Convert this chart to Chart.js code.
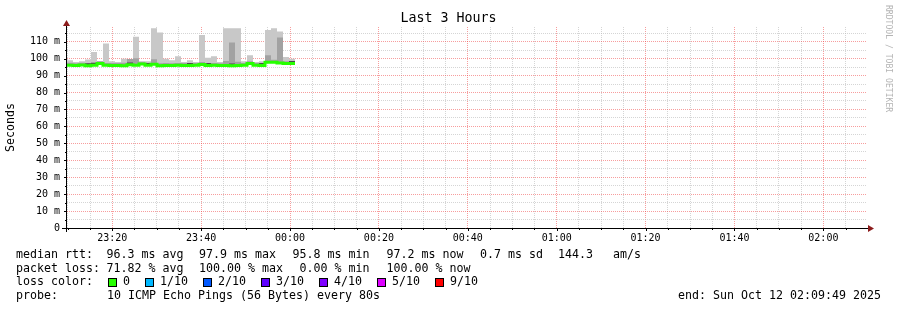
<!DOCTYPE html>
<html>
<head>
<meta charset="utf-8">
<script src="https://cdn.jsdelivr.net/npm/chart.js@4/dist/chart.umd.min.js"></script>
<style>
  html, body { margin: 0; padding: 0; background: #fff; }
</style>
</head>
<body>
<canvas id="smoke" width="897" height="310"></canvas>
<script>
// window of the graph
const viewStart = "23:09:49";
const viewEnd = "02:09:49";

// start of each 80s sample (last one closes the final step)
const stepTimes = [
  "23:09:49", "23:11:10", "23:12:31", "23:13:52", "23:15:13", "23:16:34", "23:17:55", "23:19:16",
  "23:20:37", "23:21:58", "23:23:19", "23:24:40", "23:26:01", "23:27:22", "23:28:43", "23:30:04",
  "23:31:25", "23:32:46", "23:34:07", "23:35:28", "23:36:49", "23:38:10", "23:39:31", "23:40:52",
  "23:42:13", "23:43:34", "23:44:55", "23:46:16", "23:47:37", "23:48:58", "23:50:19", "23:51:40",
  "23:53:01", "23:54:22", "23:55:43", "23:57:04", "23:58:25", "23:59:46", "00:01:07"
];

// median rtt (ms)
const medianRtt = [
  96.1, 95.9, 96.2, 95.8, 96.1, 97.1, 96.1, 96.0, 96.0, 95.8, 96.4, 96.1, 96.8,
  96.1, 96.7, 95.8, 96.0, 96.0, 96.1, 96.0, 96.0, 96.1, 96.6, 96.0, 96.1, 96.0,
  96.0, 95.8, 96.0, 96.1, 97.2, 96.1, 96.0, 97.9, 97.9, 97.4, 97.2, 97.2
];
// top of the light smoke (slowest ping, ms)
const smokeMax = [
  99.0, 98.0, 98.5, 99.5, 104.0, 98.5, 109.0, 98.5, 98.0, 100.0, 99.0, 113.0, 98.0,
  98.5, 118.0, 115.5, 100.0, 99.0, 101.5, 98.0, 99.0, 98.0, 114.0, 100.5, 101.5, 98.0,
  118.0, 118.0, 118.0, 98.5, 102.0, 98.0, 98.5, 117.0, 118.0, 116.0, 101.0, 100.0
];
// top of the medium smoke (ms)
const smokeMid = [
  97.6, 97.3, 97.6, 97.3, 98.0, 98.4, 97.5, 97.4, 97.4, 97.6, 99.8, 100.2, 98.3,
  97.4, 99.6, 97.3, 97.4, 97.3, 97.5, 97.4, 97.4, 97.5, 98.0, 97.4, 97.4, 97.3,
  98.6, 109.5, 98.2, 97.4, 98.4, 97.4, 97.4, 102.0, 99.4, 112.5, 98.4, 98.2
];
// top of the dark core just above the median (ms)
const smokeCore = [
  96.1, 95.9, 96.2, 97.3, 97.5, 97.1, 96.1, 96.0, 96.0, 95.8, 97.8, 96.1, 96.8,
  97.5, 96.7, 95.8, 96.0, 96.0, 96.1, 96.0, 97.4, 96.1, 96.6, 97.4, 96.1, 96.0,
  96.0, 97.2, 96.0, 96.1, 97.2, 96.1, 97.4, 97.9, 97.9, 97.4, 97.2, 98.6
];

const xTickLabels = ["23:20", "23:40", "00:00", "00:20", "00:40", "01:00", "01:20", "01:40", "02:00"];
const yTickLabels = ["0", "10 m", "20 m", "30 m", "40 m", "50 m", "60 m", "70 m", "80 m", "90 m", "100 m", "110 m"];

const lossLabels = ["0", "1/10", "2/10", "3/10", "4/10", "5/10", "9/10"];
const lossColors = ["#26ff00", "#00b8ff", "#0059ff", "#5e00ff", "#7e00ff", "#dd00ff", "#ff0000"];

const rttItems = ["median rtt:", "96.3 ms avg", "97.9 ms max", "95.8 ms min", "97.2 ms now", "0.7 ms sd", "144.3", "am/s"];
const lossItems = ["packet loss:", "71.82 % avg", "100.00 % max", "0.00 % min", "100.00 % now"];
const probeItems = ["loss color:", "probe:", "10 ICMP Echo Pings (56 Bytes) every 80s"];
const endText = "end: Sun Oct 12 02:09:49 2025";

// minutes after 23:00
function toMin(s) {
  const [h, m, sec] = s.split(":").map(Number);
  const hh = h < 12 ? h + 24 : h;
  return (hh - 23) * 60 + m + sec / 60;
}

function stepSeries(values) {
  let pts = values.map((v, i) => ({ x: toMin(stepTimes[i]), y: v }));
  pts.push({ x: toMin(stepTimes[values.length]), y: values[values.length - 1] });
  return pts;
}

const mono = "'DejaVu Sans Mono', 'Liberation Mono', monospace";
const gridMajor = "rgba(240,60,60,0.5)";
const gridMinor = "rgba(185,185,185,0.6)";

const rrdDecor = {
  id: "rrdDecor",
  afterDraw(chart) {
    const { ctx, chartArea: a, scales: { x, y } } = chart;
    ctx.save();

    // tick marks
    ctx.strokeStyle = "#000";
    ctx.lineWidth = 1;
    ctx.beginPath();
    y.ticks.forEach(t => {
      const py = Math.round(y.getPixelForValue(t.value)) + 0.5;
      ctx.moveTo(a.left - (t.value % 10 === 0 ? 3 : 2), py);
      ctx.lineTo(a.left, py);
    });
    x.ticks.forEach(t => {
      const px = Math.round(x.getPixelForValue(t.value)) + 0.5;
      ctx.moveTo(px, a.bottom);
      ctx.lineTo(px, a.bottom + (t.value % 20 === 0 ? 3 : 2));
    });
    ctx.stroke();

    // axes
    ctx.beginPath();
    ctx.moveTo(a.left - 5, a.bottom + 0.5);
    ctx.lineTo(a.right + 2, a.bottom + 0.5);
    ctx.moveTo(a.left - 0.5, a.bottom + 4);
    ctx.lineTo(a.left - 0.5, a.top - 2);
    ctx.stroke();

    // arrows
    ctx.fillStyle = "#8c1c1c";
    ctx.beginPath();
    ctx.moveTo(a.left - 0.5, a.top - 7);
    ctx.lineTo(a.left - 4, a.top - 1);
    ctx.lineTo(a.left + 3, a.top - 1);
    ctx.closePath();
    ctx.fill();
    ctx.beginPath();
    ctx.moveTo(a.right + 7, a.bottom + 0.5);
    ctx.lineTo(a.right + 1, a.bottom - 3);
    ctx.lineTo(a.right + 1, a.bottom + 4);
    ctx.closePath();
    ctx.fill();

    // title
    ctx.fillStyle = "#000";
    ctx.textBaseline = "middle";
    ctx.textAlign = "center";
    ctx.font = "13.3px " + mono;
    ctx.fillText("Last 3 Hours", chart.width / 2, 19);

    // stats
    ctx.font = "11.63px " + mono;
    ctx.textAlign = "left";
    const rows = [255, 268.5, 282, 296];
    const rttX = [16, 106.5, 199, 292.5, 386.5, 480, 558, 613];
    rttItems.forEach((s, i) => ctx.fillText(s, rttX[i], rows[0]));
    const lossX = [16, 106.5, 199, 299.5, 386.5];
    lossItems.forEach((s, i) => ctx.fillText(s, lossX[i], rows[1]));
    ctx.fillText(probeItems[0], 16, rows[2]);
    ctx.fillText(probeItems[1], 16, rows[3]);
    ctx.fillText(probeItems[2], 107, rows[3]);

    const boxX = [108, 145, 203, 261, 319, 377, 435];
    const textX = [123, 160, 218, 276, 334, 392, 450];
    lossLabels.forEach((lab, i) => {
      ctx.fillStyle = lossColors[i];
      ctx.fillRect(boxX[i], 278, 9, 9);
      ctx.strokeStyle = "#000";
      ctx.strokeRect(boxX[i] + 0.5, 278.5, 8, 8);
      ctx.fillStyle = "#000";
      ctx.fillText(lab, textX[i], rows[2]);
    });

    ctx.textAlign = "right";
    ctx.fillText(endText, 881, rows[3]);

    // watermark
    ctx.translate(888, 5);
    ctx.rotate(Math.PI / 2);
    ctx.textAlign = "left";
    ctx.fillStyle = "#b4b4b4";
    ctx.font = "8.1px " + mono;
    ctx.fillText("RRDTOOL / TOBI OETIKER", 0, 0);

    ctx.restore();
  }
};

const hidden = { borderWidth: 0, borderColor: "rgba(0,0,0,0)", pointRadius: 0, stepped: true };

const data = {
  datasets: [
    { ...hidden, label: "base", data: stepSeries(medianRtt), fill: false, order: 10 },
    { ...hidden, label: "smoke", data: stepSeries(smokeMax), fill: 0, backgroundColor: "#c8c8c8", order: 9 },
    { ...hidden, label: "mid", data: stepSeries(smokeMid), fill: 0, backgroundColor: "#a2a2a2", order: 8 },
    { ...hidden, label: "core", data: stepSeries(smokeCore), fill: 0, backgroundColor: "#4a4a4a", order: 7 },
    {
      label: "median rtt",
      data: stepSeries(medianRtt),
      borderColor: "#26ff00",
      borderWidth: 3,
      pointRadius: 0,
      stepped: true,
      fill: false,
      order: 0
    }
  ]
};

const options = {
  responsive: false,
  animation: false,
  events: [],
  layout: { padding: { top: 27, right: 30, left: 0, bottom: 0 } },
  plugins: { legend: { display: false }, tooltip: { enabled: false }, title: { display: false } },
  scales: {
    x: {
      type: "linear",
      min: toMin(viewStart),
      max: toMin(viewEnd),
      afterBuildTicks: s => {
        let t = [];
        for (let m = 10; m < s.max; m += 5) t.push({ value: m });
        s.ticks = t;
      },
      afterFit: s => { s.height = 82; },
      ticks: {
        autoSkip: false,
        maxRotation: 0,
        padding: 4,
        color: "#000",
        font: { family: mono, size: 10 },
        callback: v => (v % 20 === 0 ? xTickLabels[v / 20 - 1] : "")
      },
      grid: {
        drawTicks: false,
        color: c => (c.tick && c.tick.value % 20 === 0 ? gridMajor : gridMinor)
      },
      border: { display: false, dash: [1, 1] }
    },
    y: {
      min: 0,
      max: 118.7,
      afterBuildTicks: s => {
        let t = [];
        for (let v = 0; v <= 115; v += 5) t.push({ value: v });
        s.ticks = t;
      },
      afterFit: s => { s.width = 67; },
      ticks: {
        autoSkip: false,
        padding: 7,
        color: "#000",
        font: { family: mono, size: 10 },
        callback: v => (v % 10 === 0 ? yTickLabels[v / 10] : "")
      },
      grid: {
        drawTicks: false,
        color: c => (c.tick && c.tick.value % 10 === 0 ? gridMajor : gridMinor)
      },
      border: { display: false, dash: [1, 1] },
      title: {
        display: true,
        text: "Seconds",
        color: "#000",
        font: { family: mono, size: 11.6 },
        padding: { top: 4, bottom: 0 }
      }
    }
  }
};

new Chart(document.getElementById("smoke").getContext("2d"), {
  type: "line",
  data: data,
  options: options,
  plugins: [rrdDecor]
});
</script>
</body>
</html>
